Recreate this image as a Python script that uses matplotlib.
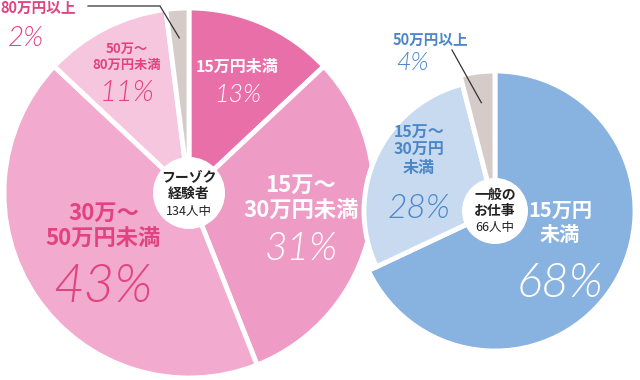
import matplotlib
matplotlib.use('Agg')
import matplotlib.pyplot as plt
from matplotlib.patches import Circle
import numpy as np

# ---- data ----
left_title = 'フーゾク\n経験者'
left_count = '134人中'
left_labels = ['15万円未満', '15万〜\n30万円未満', '30万〜\n50万円未満', '50万〜\n80万円未満', '80万円以上']
left_values = [13, 31, 43, 11, 2]

right_title = '一般の\nお仕事'
right_count = '66人中'
right_labels = ['15万円\n未満', '15万〜\n30万円\n未満', '50万円以上']
right_values = [68, 28, 4]

# ---- style ----
W, H = 640, 380
JP = ['Noto Sans CJK JP', 'DejaVu Sans']
PCT = ['Lato', 'DejaVu Sans']
PCT_W = 300
PINK_TXT = '#E2427F'
BLUE_TXT = '#4B87C8'

left_colors = ['#E96FA8', '#EE9BC5', '#F2AACE', '#F6C6DE', '#D5CCC9']
right_colors = ['#88B2E0', '#C8DAF0', '#D5CCC9']

fig = plt.figure(figsize=(6.4, 3.8), dpi=100)
ax = fig.add_axes([0, 0, 1, 1])


def P(x, y):
    return (x, H - y)


lc = P(189, 193)
LR = 185
rc = P(495, 211)
RR = 140

lw, _ = ax.pie(left_values, colors=left_colors, startangle=90, counterclock=False,
               center=lc, radius=LR, frame=True,
               wedgeprops=dict(edgecolor='white', linewidth=3.5))
rw, _ = ax.pie(right_values, colors=right_colors, startangle=90, counterclock=False,
               center=rc, radius=RR, frame=True,
               wedgeprops=dict(edgecolor='white', linewidth=3.5))
for w in rw:
    w.set_zorder(2)
rw[1].set_radius(131)

ax.add_patch(Circle(lc, 36, fc='white', ec='none', zorder=4))
ax.add_patch(Circle(rc, 33, fc='white', ec='none', zorder=4))


def anchor(w, frac):
    th = np.deg2rad((w.theta1 + w.theta2) / 2)
    cx, cy = w.center
    r = w.r * frac
    return cx + r * np.cos(th), cy + r * np.sin(th)


def block(w, frac, title, pct, tsize, psize, color, dt, dp, ls=1.15):
    x, y = anchor(w, frac)
    ax.text(x, y + dt, title, ha='center', va='center', fontsize=tsize,
            fontweight='bold', color=color, family=JP, linespacing=ls, zorder=5)
    ax.text(x, y - dp, pct, ha='center', va='center', fontsize=psize,
            fontweight=PCT_W, fontstyle='italic', color=color, family=PCT, zorder=5)


# left pie labels
block(lw[0], 0.66, left_labels[0], f'{left_values[0]}%', 11.5, 18, 'white', 14, 14)
block(lw[1], 0.62, left_labels[1], f'{left_values[1]}%', 16, 28, 'white', 20, 31)
block(lw[2], 0.56, left_labels[2], f'{left_values[2]}%', 16, 38, PINK_TXT, 25, 36)
block(lw[3], 0.74, left_labels[3], f'{left_values[3]}%', 9.5, 21, PINK_TXT, 14, 22)

# right pie labels
block(rw[0], 0.55, right_labels[0], f'{right_values[0]}%', 14.5, 34, 'white', 30, 32)
block(rw[1], 0.64, right_labels[1], f'{right_values[1]}%', 11.5, 24, BLUE_TXT, 25, 34)

# outside labels with leader lines
ax.text(*P(0, 8), left_labels[4], ha='left', va='center', fontsize=10.5,
        fontweight='bold', color=PINK_TXT, family=JP, zorder=5)
ax.text(*P(8, 38), f'{left_values[4]}%', ha='left', va='center', fontsize=20,
        fontweight=PCT_W, fontstyle='italic', color=PINK_TXT, family=PCT, zorder=5)
ex, ey = anchor(lw[4], 0.84)
p0, p1 = P(88, 6), P(160, 6)
ax.plot([p0[0], p1[0], ex], [p0[1], p1[1], ey], color='#333333', lw=0.9, zorder=6)

ax.text(*P(430, 40), right_labels[2], ha='center', va='center', fontsize=10.5,
        fontweight='bold', color=BLUE_TXT, family=JP, zorder=5)
ax.text(*P(412, 63), f'{right_values[2]}%', ha='center', va='center', fontsize=18,
        fontweight=PCT_W, fontstyle='italic', color=BLUE_TXT, family=PCT, zorder=5)
ex, ey = anchor(rw[2], 0.78)
q0 = P(452, 50)
ax.plot([q0[0], ex], [q0[1], ey], color='#333333', lw=0.9, zorder=6)

# center texts
ax.text(lc[0], lc[1] + 7, left_title, ha='center', va='center', fontsize=10,
        fontweight='bold', color='#222222', family=JP, linespacing=1.1, zorder=6)
ax.text(lc[0], lc[1] - 19, left_count, ha='center', va='center', fontsize=9,
        color='#222222', family=JP, zorder=6)
ax.text(rc[0], rc[1] + 8, right_title, ha='center', va='center', fontsize=10,
        fontweight='bold', color='#222222', family=JP, linespacing=1.1, zorder=6)
ax.text(rc[0], rc[1] - 17, right_count, ha='center', va='center', fontsize=9,
        color='#222222', family=JP, zorder=6)

ax.set_xlim(0, W)
ax.set_ylim(0, H)
ax.set_aspect('equal')
ax.axis('off')

fig.savefig('out.png', dpi=100, facecolor='white')
